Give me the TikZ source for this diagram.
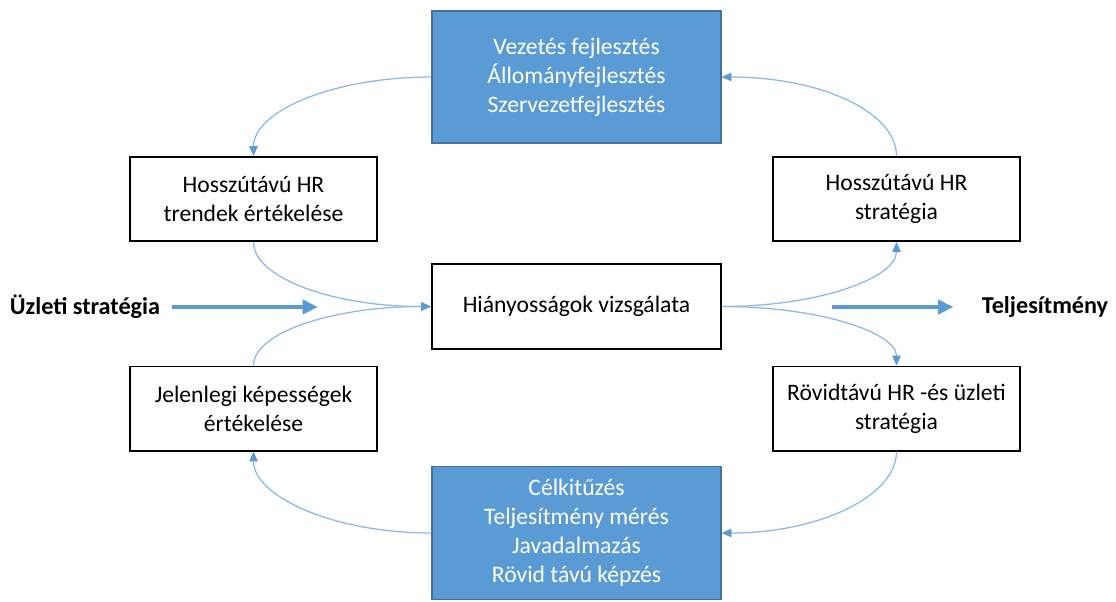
\documentclass[tikz,border=0pt]{standalone}
\usepackage{fontspec}
\setmainfont{Carlito}
\usetikzlibrary{arrows.meta, positioning}
\definecolor{hrblue}{HTML}{5B9BD5}
\definecolor{hrborder}{HTML}{41719C}
\definecolor{hrline}{HTML}{8DB8E5}

\begin{document}
\begin{tikzpicture}[x=0.025cm, y=-0.025cm,
	font=\fontsize{16.8}{20.6}\selectfont,
	whitebox/.style={draw=black, line width=1.4pt, fill=white, minimum width=6.175cm, minimum height=2.1cm, align=center, inner sep=0pt},
	bluebox/.style={draw=hrborder, line width=0.8pt, fill=hrblue, text=white, minimum width=7.225cm, align=center, inner sep=0pt},
	flow/.style={hrline, line width=0.9pt, -{Triangle[length=7pt, width=6pt, color=hrblue]}},
	bigarrow/.style={hrblue, line width=3.3pt, -{Triangle[length=11pt, width=10pt]}},
	side/.style={font=\fontsize{17.2}{20.6}\selectfont\bfseries, inner sep=8pt}]
	\useasboundingbox (0,0) rectangle (1116,601);
	\node (fejl) [bluebox, minimum height=3.3cm] at (576.5,77) {Vezetés fejlesztés\\Állományfejlesztés\\Szervezetfejlesztés};
	\node (trendek) [whitebox] at (253.5,199) {Hosszútávú HR\\trendek értékelése};
	\node (hstrat) [whitebox] at (896.5,199) {Hosszútávú HR\\stratégia};
	\node (hiany) [whitebox, minimum width=7.225cm, minimum height=2.125cm] at (576.5,306.5) {Hiányosságok vizsgálata};
	\node (jelen) [whitebox] at (253.5,408.5) {Jelenlegi képességek\\értékelése};
	\node (rstrat) [whitebox] at (896.5,408.5) {Rövidtávú HR -és üzleti\\stratégia};
	\node (celok) [bluebox, minimum height=3.325cm] at (576.5,533) {Célkitűzés\\Teljesítmény mérés\\Javadalmazás\\Rövid távú képzés};
	\node (uzleti) [side] at (85,307) {Üzleti stratégia};
	\node (telj) [side] at (1045,307) {Teljesítmény};
	\coordinate (uzletiend) at (318,307);
	\coordinate (teljstart) at (832,307);
	\draw [flow] (fejl.west) .. controls +(-98,0) and +(0,-45) .. (trendek.north);
	\draw [flow] (hstrat.north) .. controls +(0,-45) and +(97,0) .. (fejl.east);
	\draw [flow] (trendek.south) .. controls +(0,36) and +(-98,0) .. (hiany.west);
	\draw [flow] (jelen.north) .. controls +(0,-33) and +(-98,0) .. (hiany.west);
	\draw [flow] (hiany.east) .. controls +(97,0) and +(0,36) .. (hstrat.south);
	\draw [flow] (hiany.east) .. controls +(97,0) and +(0,-33) .. (rstrat.north);
	\draw [flow] (rstrat.south) .. controls +(0,45) and +(97,0) .. (celok.east);
	\draw [flow] (celok.west) .. controls +(-98,0) and +(0,45) .. (jelen.south);
	\draw [bigarrow] (uzleti) -- (uzletiend);
	\draw [bigarrow, shorten >=12pt] (teljstart) -- (telj);
\end{tikzpicture}
\end{document}
